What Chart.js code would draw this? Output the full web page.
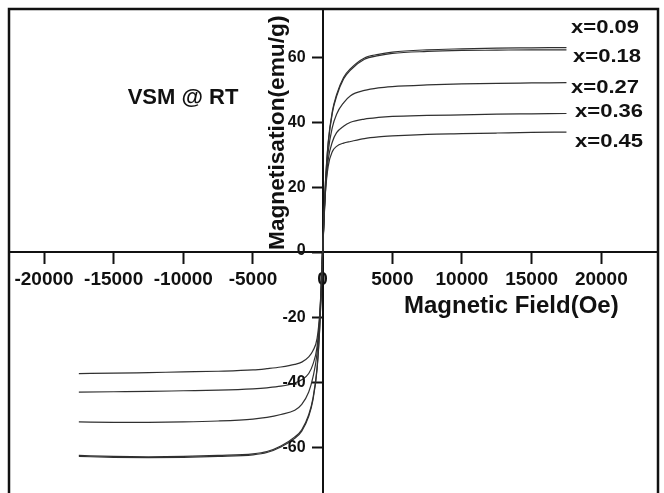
<!DOCTYPE html>
<html><head><meta charset="utf-8">
<script src="https://cdn.jsdelivr.net/npm/chart.js@4"></script>
<style>html,body{margin:0;padding:0;background:#fff}#c{display:block}</style>
</head><body>
<canvas id="c" width="664" height="493"></canvas>
<script>
// Magnetic field (Oe)
const fieldOe = [-17500,-15000,-12500,-10000,-7500,-5000,-4000,-3000,-2000,-1500,-1000,-700,-400,-200,-100,0,100,200,400,700,1000,1500,2000,3000,4000,5000,7500,10000,12500,15000,17500];
// Magnetisation (emu/g) per composition
const m009 = [-62.8,-63.1,-63.2,-63.1,-62.8,-62.3,-61.6,-59.9,-57.2,-55.0,-50.5,-45.5,-36.0,-22.5,-12.0,0,11.5,21.5,34.0,43.5,48.5,53.8,56.5,59.8,60.9,61.6,62.3,62.6,62.8,62.9,63.0];
const m018 = [-62.5,-62.8,-62.9,-62.8,-62.5,-62.0,-61.3,-59.6,-56.8,-54.6,-50.0,-45.0,-35.5,-22.2,-11.8,0,11.3,21.2,33.5,43.0,48.0,53.3,56.1,59.4,60.5,61.2,61.8,62.1,62.2,62.3,62.3];
const m027 = [-52.2,-52.3,-52.3,-52.2,-51.9,-51.3,-50.8,-49.9,-48.6,-46.8,-43.0,-38.5,-31.0,-20.0,-10.8,0,10.8,20.0,31.0,38.5,42.5,46.0,48.2,49.8,50.6,51.0,51.5,51.8,52.0,52.1,52.2];
const m036 = [-43.0,-42.9,-42.8,-42.6,-42.4,-42.0,-41.7,-41.2,-40.2,-39.2,-37.3,-34.5,-29.0,-19.0,-10.3,0,10.2,18.8,28.5,34.0,36.8,38.8,40.0,41.0,41.5,41.8,42.1,42.3,42.5,42.6,42.7];
const m045 = [-37.3,-37.2,-37.0,-36.8,-36.6,-36.2,-35.8,-35.3,-34.5,-33.8,-32.2,-30.3,-26.5,-18.3,-9.9,0,9.8,18.3,26.5,31.0,32.6,33.6,34.1,35.0,35.5,35.8,36.3,36.5,36.7,36.9,37.0];
const seriesNames = ['x=0.09','x=0.18','x=0.27','x=0.36','x=0.45'];
const seriesValues = [m009, m018, m027, m036, m045];
const xTickValues = [-20000,-15000,-10000,-5000,0,5000,10000,15000,20000];
const yTickValues = [-60,-40,-20,0,20,40,60];
const xTitle = 'Magnetic Field(Oe)';
const yTitle = 'Magnetisation(emu/g)';
const noteText = 'VSM @ RT';

const FONT = '"Liberation Sans", Arial, Helvetica, sans-serif';

const datasets = seriesNames.map((name, i) => ({
  label: name,
  data: fieldOe.map((f, j) => ({x: f, y: seriesValues[i][j]})),
  borderColor: '#303030',
  borderWidth: 1.2,
  pointRadius: 0,
  fill: false,
  cubicInterpolationMode: 'monotone'
}));

function zeroFit(s) {
  if (s.isHorizontal()) s.height = 0; else s.width = 0;
  s.paddingLeft = 0; s.paddingRight = 0; s.paddingTop = 0; s.paddingBottom = 0;
}

const labelPos = [
  {x: 571, y: 28},
  {x: 573, y: 57},
  {x: 571, y: 88},
  {x: 575, y: 112},
  {x: 575, y: 142}
];

const decor = {
  id: 'decor',
  beforeDraw(chart) {
    const {ctx, chartArea: a} = chart;
    ctx.save();
    ctx.fillStyle = '#fff';
    ctx.fillRect(0, 0, chart.width, chart.height);
    ctx.strokeStyle = '#111';
    ctx.lineWidth = 2.5;
    ctx.strokeRect(a.left, a.top, a.right - a.left, a.bottom - a.top + 40);
    ctx.restore();
  },
  afterDraw(chart) {
    const {ctx} = chart;
    const xs = chart.scales.x, ys = chart.scales.y;
    ctx.save();
    ctx.fillStyle = '#111';
    // y tick labels, placed left of the tick marks
    ctx.textBaseline = 'middle';
    ctx.textAlign = 'right';
    ctx.font = 'bold 16px ' + FONT;
    const axisX = xs.getPixelForValue(0);
    ys.ticks.forEach(t => {
      const py = ys.getPixelForValue(t.value);
      ctx.fillText(String(t.value), axisX - 17, t.value === 0 ? py - 2 : py);
    });
    ctx.font = 'bold 22px ' + FONT;
    ctx.textAlign = 'center';
    ctx.fillText(noteText, 183, 98);
    ctx.textAlign = 'left';
    ctx.font = 'bold 19px ' + FONT;
    seriesNames.forEach((n, i) => {
      ctx.save();
      ctx.translate(labelPos[i].x, labelPos[i].y);
      ctx.scale(1.16, 1);
      ctx.fillText(n, 0, 0);
      ctx.restore();
    });
    ctx.textBaseline = 'alphabetic';
    ctx.font = 'bold 24px ' + FONT;
    ctx.fillText(xTitle, 404, 312.5);
    ctx.save();
    ctx.translate(283.5, 250);
    ctx.rotate(-Math.PI / 2);
    ctx.font = 'bold 22.7px ' + FONT;
    ctx.fillText(yTitle, 0, 0);
    ctx.restore();
    ctx.restore();
  }
};

new Chart(document.getElementById('c'), {
  type: 'line',
  data: {datasets},
  plugins: [decor],
  options: {
    responsive: false,
    animation: false,
    layout: {padding: {left: 9, top: 9, right: 6, bottom: 0}},
    plugins: {legend: {display: false}, tooltip: {enabled: false}},
    scales: {
      x: {
        type: 'linear',
        min: -22513, max: 24070,
        position: {y: 0},
        afterFit: zeroFit,
        afterBuildTicks: s => { s.ticks = xTickValues.map(v => ({value: v})); },
        grid: {drawOnChartArea: false, drawTicks: true, tickLength: 11, tickWidth: 2, tickColor: '#111'},
        border: {display: true, width: 2, color: '#111'},
        ticks: {color: '#111', font: {family: FONT, size: 19, weight: 'bold', lineHeight: 1.45}, maxRotation: 0, autoSkip: false,
          callback: v => String(v)}
      },
      y: {
        type: 'linear',
        min: -74.06, max: 74.86,
        position: {x: 0},
        afterFit: zeroFit,
        afterBuildTicks: s => { s.ticks = yTickValues.map(v => ({value: v})); },
        grid: {drawOnChartArea: false, drawTicks: true, tickLength: 10, tickWidth: 2, tickColor: '#111'},
        border: {display: true, width: 2, color: '#111'},
        ticks: {display: false, autoSkip: false}
      }
    }
  }
});
</script>
</body></html>
